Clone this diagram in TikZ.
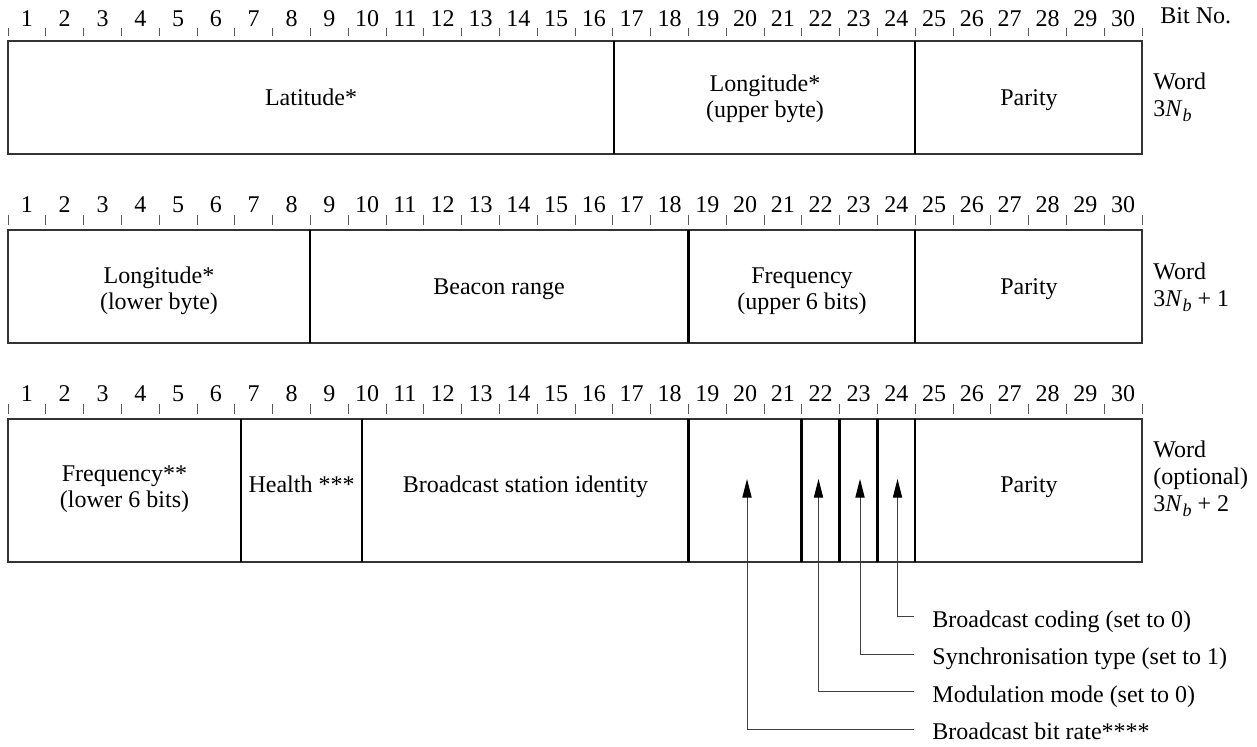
\documentclass[tikz,border=0pt]{standalone}
\usepackage{fontspec}
\setmainfont{Liberation Serif}
\usetikzlibrary{arrows.meta}
\newcommand\wordsub[1]{\raisebox{-0.45ex}{\fontsize{9}{9}\selectfont\textit{#1}}}
\begin{document}
\begin{tikzpicture}[x=0.5pt,y=-0.5pt,
  every node/.style={font=\fontsize{12}{13}\selectfont, inner sep=0pt},
  frame/.style={draw=black!80, line width=0.6pt},
  divider/.style={draw=black, line width=1.1pt},
  tickline/.style={draw=black!65, line width=0.5pt},
  field/.style={align=center, anchor=base},
  field2/.style={align=center, anchor=center},
  lbl/.style={anchor=base west},
  num/.style={anchor=base},
  pointer/.style={draw=black!75, line width=0.5pt, -{Triangle[length=9.3pt,width=4.6pt,color=black]}}]
\useasboundingbox (0,0) rectangle (1257,747);
\def\P{37.8}
% bit number rulers
\foreach \r/\ya/\yb/\nb in {1/28/36/26.5, 2/215/225/213, 3/404/414/401.5} {
  \foreach \k in {0,...,30} \draw[tickline] ({8+\k*\P},\ya) -- ({8+\k*\P},\yb);
  \foreach \i in {1,...,30} \node[num] (n\r-\i) at ({8+(\i-0.5)*\P},\nb) {\i};
}
\node[lbl] (bitno) at (1160,23.5) {Bit No.};

% Word 3Nb
\draw[frame] (8,41) rectangle (1142,154);
\draw[divider] (614,41) -- (614,154);
\draw[divider] (915,41) -- (915,154);
\node[field] (lat) at (311,105.5) {Latitude*};
\node[field2] (lonU) at (765,99) {Longitude*\\(upper byte)};
\node[field] (par1) at (1029,105.5) {Parity};
\node[lbl] (w1a) at (1153,90) {Word};
\node[lbl] (w1b) at (1153,117) {3\textit{N}\wordsub{b}};

% Word 3Nb+1
\draw[frame] (8,230) rectangle (1142,343);
\draw[divider] (310,230) -- (310,343);
\draw[divider] (688.5,230) -- (688.5,343);
\draw[divider] (915,230) -- (915,343);
\node[field2] (lonL) at (159,291) {Longitude*\\(lower byte)};
\node[field] (beacon) at (499,294.5) {Beacon range};
\node[field2] (freqU) at (802,291) {Frequency\\(upper 6 bits)};
\node[field] (par2) at (1029,294.5) {Parity};
\node[lbl] (w2a) at (1153,280) {Word};
\node[lbl] (w2b) at (1153,307) {3\textit{N}\wordsub{b} + 1};

% Word 3Nb+2
\draw[frame] (8,419) rectangle (1142,562);
\foreach \xx in {241,362,688.5,801.5,839.5,877.5,915}
  \draw[divider] (\xx,419) -- (\xx,562);
\node[field2] (freqL) at (124.5,489) {Frequency**\\(lower 6 bits)};
\node[field] (health) at (301.5,493) {Health ***};
\node[field] (bsid) at (525.5,493) {Broadcast station identity};
\node[field] (par3) at (1029,493) {Parity};
\node[lbl] (w3a) at (1153,458) {Word};
\node[lbl] (w3b) at (1153,485) {(optional)};
\node[lbl] (w3c) at (1153,512) {3\textit{N}\wordsub{b} + 2};

% pointers
\coordinate (t1) at (747,479);
\coordinate (t2) at (818.5,479);
\coordinate (t3) at (860,479);
\coordinate (t4) at (897.5,479);
\coordinate (c4) at (914,617);
\coordinate (c3) at (914,654);
\coordinate (c2) at (914,691.5);
\coordinate (c1) at (914,729);
\node[lbl] (l4) at (932,627.5) {Broadcast coding (set to 0)};
\node[lbl] (l3) at (932,664.5) {Synchronisation type (set to 1)};
\node[lbl] (l2) at (932,702) {Modulation mode (set to 0)};
\node[lbl] (l1) at (932,739.5) {Broadcast bit rate****};
\draw[pointer] (c4) -| (t4);
\draw[pointer] (c3) -| (t3);
\draw[pointer] (c2) -| (t2);
\draw[pointer] (c1) -| (t1);
\end{tikzpicture}
\end{document}
